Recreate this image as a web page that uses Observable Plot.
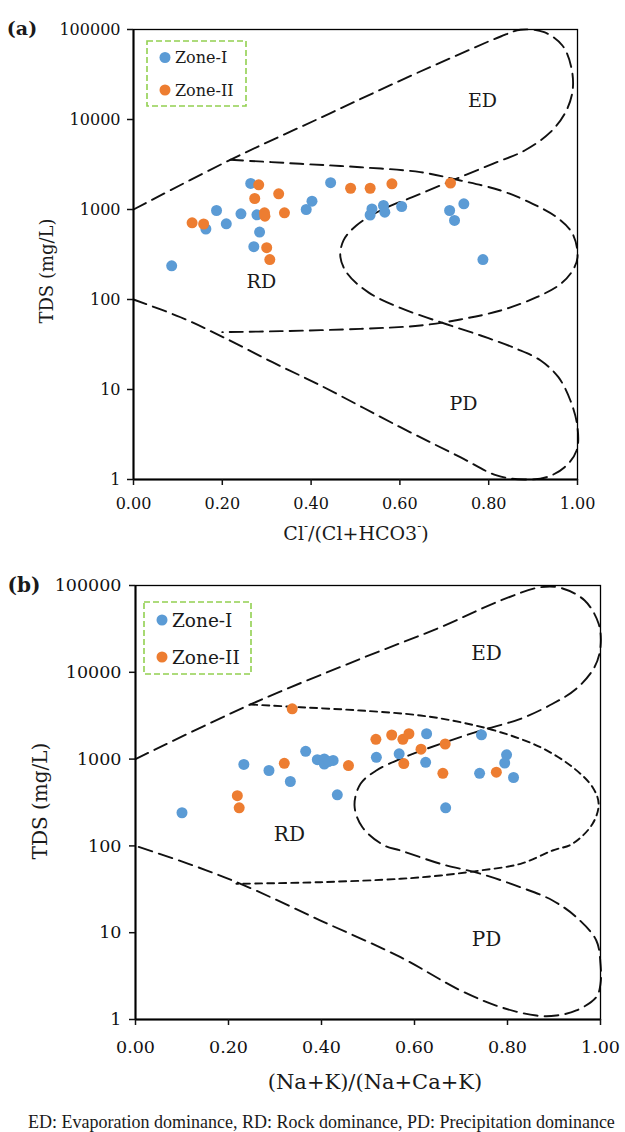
<!DOCTYPE html>
<html><head><meta charset="utf-8">
<script src="https://cdn.jsdelivr.net/npm/d3@7"></script>
<script src="https://cdn.jsdelivr.net/npm/@observablehq/plot@0.6"></script>
<style>
body{margin:0;background:#fff;}
#page{position:relative;width:625px;height:1132px;overflow:hidden;background:#fff;}
.abs{position:absolute;left:0;}
#caption{position:absolute;left:28px;top:1111px;white-space:nowrap;font-family:"Liberation Serif",serif;font-size:18px;line-height:22px;color:#1a1a1a;}
</style></head><body><div id="page"></div>
<script>
// ---------- shared ticks ----------
const xTicks = [0, 0.2, 0.4, 0.6, 0.8, 1.0];
const yTicks = [1, 10, 100, 1000, 10000, 100000];
const seriesNames = ["Zone-I", "Zone-II"];
const regionNames = ["ED", "RD", "PD"];

// ---------- panel (a): Cl/(Cl+HCO3) ----------
const aZone1X = [0.264,0.444,0.187,0.242,0.278,0.209,0.163,0.284,0.271,0.086,0.402,0.389,0.537,0.533,0.563,0.566,0.604,0.712,0.744,0.723,0.787];
const aZone1TDS = [1950,1985,975,896,873,693,607,562,386,237,1236,1000,1013,869,1108,933,1080,975,1157,755,278];
const aZone2X = [0.282,0.273,0.327,0.295,0.296,0.340,0.132,0.158,0.300,0.307,0.489,0.533,0.582,0.714];
const aZone2TDS = [1881,1325,1494,919,843,919,711,690,377,278,1722,1722,1931,1968];
const aOuterX = [0,0.218,0.421,0.601,0.736,0.827,0.872,0.925,0.966,0.986,0.989,0.973,0.939,0.881,0.809,0.718,0.628,0.556,0.502,0.473,0.466,0.482,0.529,0.601,0.691,0.782,0.863,0.917,0.957,0.984,1.0,0.998,0.971,0.930,0.880,0.818,0.736,0.601,0.421,0.313,0.205,0.106,0];
const aOuterTDS = [1000,3565,10440,27100,53700,83600,99300,93300,66400,38100,21000,12050,7230,4525,3220,2100,1370,975,664,453,295,193,120,80.7,56,39.8,28.3,21,13.7,7.55,3.81,2.1,1.37,1.06,1.0,1.11,1.77,3.81,11.1,20.1,37.5,63.5,100];
const aInnerX = [0.218,0.376,0.511,0.646,0.736,0.827,0.899,0.953,0.989,1.0,0.989,0.962,0.908,0.827,0.736,0.646,0.511,0.331,0.2];
const aInnerTDS = [3565,3220,2950,2600,2100,1625,1157,820,537,295,210,149,106,75.5,60,51.4,47.2,44.5,43.4];
const aRegionX = [0.786,0.288,0.743];
const aRegionTDS = [16255,158,7.0];

// ---------- panel (b): (Na+K)/(Na+Ca+K) ----------
const bZone1X = [0.100,0.233,0.287,0.333,0.366,0.391,0.406,0.406,0.425,0.415,0.434,0.518,0.567,0.626,0.624,0.667,0.744,0.740,0.798,0.794,0.813];
const bZone1TDS = [241,867,739,552,1230,985,1003,878,964,938,388,1049,1151,1959,918,275,1905,686,1121,902,614];
const bZone2X = [0.337,0.320,0.458,0.219,0.223,0.517,0.551,0.575,0.588,0.614,0.577,0.666,0.661,0.776];
const bZone2TDS = [3800,895,843,379,275,1691,1895,1691,1959,1300,889,1493,686,706];
const bOuterX = [0,0.247,0.484,0.656,0.785,0.871,0.914,0.966,0.996,1.0,0.987,0.948,0.897,0.828,0.742,0.656,0.570,0.518,0.484,0.471,0.488,0.535,0.570,0.656,0.742,0.828,0.897,0.948,0.991,1.0,1.0,0.991,0.948,0.905,0.862,0.785,0.699,0.570,0.398,0.226,0.114,0];
const bOuterTDS = [1000,4260,14300,33100,67100,95600,94000,67100,36200,19500,11450,6460,4340,2910,2130,1500,1007,739,519,292,164,101,88.5,62.2,47.7,33.4,23.5,15.1,8.13,4.39,2.58,1.81,1.27,1.11,1.11,1.39,2.16,5.22,13.8,36.6,62.2,100];
const bInnerX = [0.247,0.355,0.484,0.613,0.699,0.785,0.871,0.940,0.983,0.996,0.983,0.940,0.897,0.828,0.742,0.656,0.570,0.398,0.217];
const bInnerTDS = [4260,3960,3630,3180,2660,2040,1370,807,474,305,180,106,88.5,62.2,52.1,45.6,41.8,38.2,36.6];
const bRegionX = [0.755,0.331,0.755];
const bRegionTDS = [16470,135,8.4];

const blue = "#5B9BD5", orange = "#ED7D31";
const pts = (xs, ys) => xs.map((x, i) => ({x, tds: ys[i]}));
const labs = (xs, ys) => xs.map((x, i) => ({x, tds: ys[i], label: regionNames[i]}));

function panel(o) {
  return Plot.plot({
    width: 625, height: o.height,
    marginLeft: o.ml, marginRight: o.mr, marginTop: o.mt, marginBottom: o.mb,
    style: {fontFamily: "DejaVu Serif", fontSize: o.fs + "px", color: "#111", background: "transparent", overflow: "visible"},
    x: {domain: [0, 1]},
    y: {type: "log", domain: [1, 100000]},
    marks: [
      Plot.line(o.outer, {x: "x", y: "tds", curve: "catmull-rom", stroke: "#111", strokeWidth: 1.9, strokeDasharray: "14,7"}),
      Plot.line(o.inner, {x: "x", y: "tds", curve: "catmull-rom", stroke: "#111", strokeWidth: 1.9, strokeDasharray: o.innerDash}),
      Plot.dot(o.zone1, {x: "x", y: "tds", r: 5.5, fill: blue}),
      Plot.dot(o.zone2, {x: "x", y: "tds", r: 5.5, fill: orange}),
      Plot.text(o.regions, {x: "x", y: "tds", text: "label", fontSize: o.rfs, fill: "#1a1a1a"}),
      Plot.frame({stroke: "#000", strokeWidth: 1.3}),
      Plot.ruleX([0], {stroke: "#000", strokeWidth: 2}),
      Plot.ruleY([1], {stroke: "#000", strokeWidth: 2}),
      Plot.axisX({ticks: xTicks, tickFormat: d => d.toFixed(2), tickSize: 6, tickPadding: o.tpx, label: null, strokeWidth: 1.5}),
      Plot.axisY({ticks: yTicks, tickFormat: d => String(d), tickSize: 6, tickPadding: o.tpy, label: null, strokeWidth: 1.5})
    ]
  });
}

const page = document.getElementById("page");

const pa = panel({height: 550, ml: 133, mr: 48, mt: 29, mb: 71, fs: 16, rfs: 19, tpx: 12, tpy: 7,
  outer: pts(aOuterX, aOuterTDS), inner: pts(aInnerX, aInnerTDS), innerDash: "13,7",
  zone1: pts(aZone1X, aZone1TDS), zone2: pts(aZone2X, aZone2TDS), regions: labs(aRegionX, aRegionTDS)});
pa.classList.add("abs"); pa.style.top = "0px";
page.appendChild(pa);

const pb = panel({height: 540, ml: 135, mr: 25, mt: 25, mb: 81, fs: 17.5, rfs: 20, tpx: 15, tpy: 8,
  outer: pts(bOuterX, bOuterTDS), inner: pts(bInnerX, bInnerTDS), innerDash: "7,5",
  zone1: pts(bZone1X, bZone1TDS), zone2: pts(bZone2X, bZone2TDS), regions: labs(bRegionX, bRegionTDS)});
pb.classList.add("abs"); pb.style.top = "560px";
page.appendChild(pb);

// ---------- overlay: panel letters, axis titles, legends ----------
const ov = d3.create("svg").attr("width", 625).attr("height", 1132)
  .style("position", "absolute").style("left", "0px").style("top", "0px")
  .style("font-family", "DejaVu Serif").attr("fill", "#1a1a1a");

function txt(x, y, s, size, extra) {
  const t = ov.append("text").attr("x", x).attr("y", y).attr("text-anchor", "middle")
    .attr("dominant-baseline", "central").attr("font-size", size).text(s);
  if (extra) extra(t);
  return t;
}
txt(22, 28, "(a)", 19, t => t.attr("font-weight", "bold"));
txt(24, 585, "(b)", 20, t => t.attr("font-weight", "bold"));
txt(0, 0, "TDS (mg/L)", 18, t => t.attr("transform", "translate(46,271) rotate(-90)"));
txt(0, 0, "TDS (mg/L)", 20, t => t.attr("transform", "translate(40,801) rotate(-90)"));

const xa = ov.append("text").attr("x", 356).attr("y", 533).attr("text-anchor", "middle")
  .attr("dominant-baseline", "central").attr("font-size", 19);
xa.append("tspan").text("Cl");
xa.append("tspan").attr("baseline-shift", "super").attr("font-size", 12).text("-");
xa.append("tspan").text("/(Cl+HCO3");
xa.append("tspan").attr("baseline-shift", "super").attr("font-size", 12).text("-");
xa.append("tspan").text(")");
txt(375, 1082, "(Na+K)/(Na+Ca+K)", 21);

function legend(x, y, w, h, dotX, y1, y2, textX, fs) {
  ov.append("rect").attr("x", x).attr("y", y).attr("width", w).attr("height", h)
    .attr("fill", "none").attr("stroke", "#92D050").attr("stroke-width", 1.6).attr("stroke-dasharray", "6,3");
  [[y1, blue, seriesNames[0]], [y2, orange, seriesNames[1]]].forEach(([yy, c, s]) => {
    ov.append("circle").attr("cx", dotX).attr("cy", yy).attr("r", 5.5).attr("fill", c);
    ov.append("text").attr("x", textX).attr("y", yy).attr("dominant-baseline", "central")
      .attr("font-size", fs).text(s);
  });
}
legend(147, 41, 99, 65, 165, 57.5, 90, 175, 16);
legend(144, 602, 107, 72, 162, 620, 657, 172, 18.5);

page.appendChild(ov.node());

const cap = document.createElement("div");
cap.id = "caption";
cap.textContent = "ED: Evaporation dominance, RD: Rock dominance, PD: Precipitation dominance";
page.appendChild(cap);
</script></body></html>
